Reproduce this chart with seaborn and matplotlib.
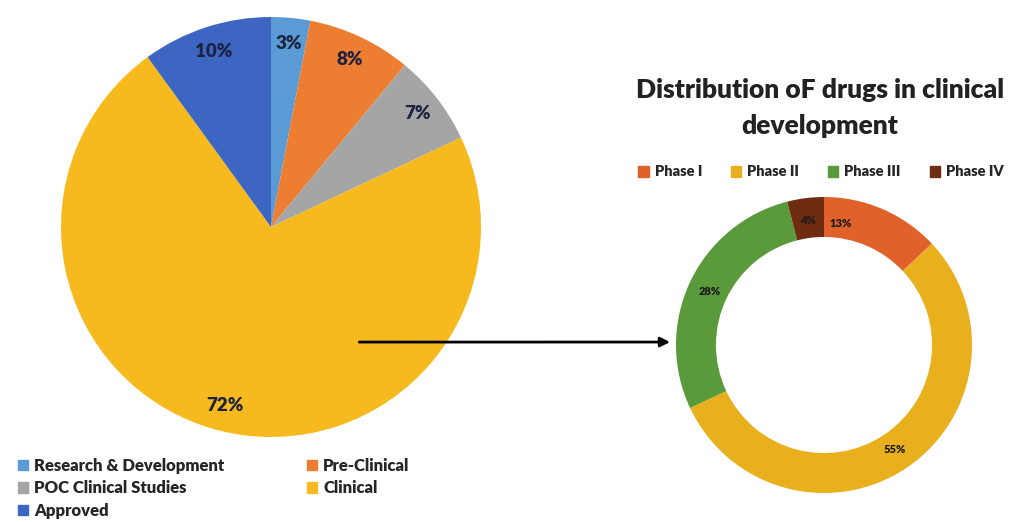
import matplotlib
matplotlib.use("Agg")
import matplotlib.pyplot as plt
import seaborn as sns
from matplotlib.patches import Patch, ConnectionPatch

# Datos: etapas de desarrollo
etapas = ['Research & Development', 'Pre-Clinical', 'POC Clinical Studies', 'Clinical', 'Approved']
etapas_pct = [3, 8, 7, 72, 10]
etapas_colores = ['#5B9BD5', '#ED7D31', '#A5A5A5', '#F7BA1E', '#3D66C2']

# Datos: fases clínicas
fases = ['Phase I', 'Phase II', 'Phase III', 'Phase IV']
fases_pct = [13, 55, 28, 4]
fases_colores = ['#E0622A', '#E9B01E', '#5A9A3A', '#6E2C12']

titulo = 'Distribution oF drugs in clinical\ndevelopment'

sns.set_theme(style='white')
plt.rcParams['font.family'] = ['Lato', 'DejaVu Sans']

W, H = 1014, 522
fig = plt.figure(figsize=(W / 100, H / 100), dpi=100)


def ejes(cx, cy, r):
    return fig.add_axes([(cx - r) / W, (H - cy - r) / H, 2 * r / W, 2 * r / H])


# Pie principal
ax1 = ejes(271, 227, 210)
ax1.pie(etapas_pct, colors=etapas_colores, startangle=90, counterclock=False,
        autopct='%d%%', pctdistance=0.88, wedgeprops={'linewidth': 0},
        textprops={'fontsize': 13.5, 'fontweight': 'heavy', 'color': '#1c2240'})
ax1.set_xlim(-1, 1)
ax1.set_ylim(-1, 1)
ax1.set_aspect('equal')
ax1.axis('off')

# Donut fases
ax2 = ejes(824, 345, 148)
_, _, txt2 = ax2.pie(fases_pct, colors=fases_colores, startangle=90, counterclock=False,
                     autopct='%d%%', pctdistance=0.85,
                     wedgeprops={'width': 0.27, 'linewidth': 0},
                     textprops={'fontsize': 8, 'fontweight': 'heavy', 'color': '#1a1a1a'})
txt2[0].set_position((0.11, 0.82))
ax2.set_xlim(-1, 1)
ax2.set_ylim(-1, 1)
ax2.set_aspect('equal')
ax2.axis('off')

# Flecha
flecha = ConnectionPatch(xyA=(0.42, -0.548), coordsA=ax1.transData,
                         xyB=(-1.04, 0.02), coordsB=ax2.transData,
                         arrowstyle='-|>', color='black', lw=2, mutation_scale=14)
fig.add_artist(flecha)

# Título
fig.text(820 / W, 1 - 108 / H, titulo, ha='center', va='center',
         fontsize=19, fontweight='heavy', color='#222222', linespacing=1.65)

# Leyenda fases
h2 = [Patch(color=c) for c in fases_colores]
fig.legend(h2, fases, loc='center', bbox_to_anchor=(821 / W, 1 - 172 / H), ncol=4,
           frameon=False, handlelength=0.7, handleheight=0.7, handletextpad=0.4,
           columnspacing=2.0, prop={'size': 10.5, 'weight': 'heavy'})

# Leyenda etapas (orden por filas)
orden = [0, 2, 4, 1, 3]
h1 = [Patch(color=etapas_colores[i]) for i in orden]
fig.legend(h1, [etapas[i] for i in orden], loc='upper left',
           bbox_to_anchor=(3 / W, 1 - 443 / H), ncol=2, frameon=False,
           handlelength=0.6, handleheight=0.6, handletextpad=0.35,
           columnspacing=5.0, labelspacing=0.38, prop={'size': 12, 'weight': 'heavy'})

fig.savefig('out.png', dpi=100)
plt.close()
